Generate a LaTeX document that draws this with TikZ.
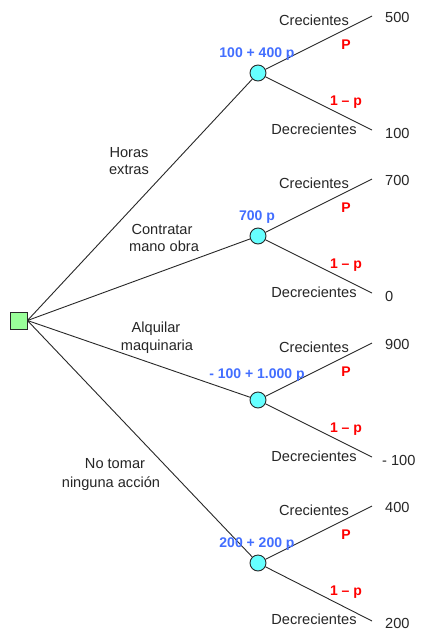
\documentclass[tikz,border=0pt]{standalone}
\usepackage{fontspec}
\setmainfont{Liberation Sans}
\definecolor{bluelbl}{RGB}{66,110,255}
\definecolor{redlbl}{RGB}{255,0,0}
\definecolor{sqgreen}{RGB}{153,255,153}
\definecolor{circcyan}{RGB}{102,255,255}
\definecolor{linegray}{RGB}{40,40,40}
\tikzset{
  branch/.style={draw=linegray, line width=0.9pt},
  chance/.style={circle, draw=linegray, fill=circcyan, minimum size=16pt, inner sep=0pt, line width=0.9pt},
  decision/.style={rectangle, draw=linegray, fill=sqgreen, minimum size=17pt, inner sep=0pt, line width=0.9pt},
  txt/.style={font=\fontsize{14.6}{17}\selectfont, text=black!85, inner sep=0pt, anchor=base},
  val/.style={txt, anchor=base west},
  ev/.style={font=\bfseries\fontsize{14}{16}\selectfont, text=bluelbl, inner sep=0pt, anchor=base},
  prob/.style={font=\bfseries\fontsize{14}{16}\selectfont, text=redlbl, inner sep=0pt, anchor=base},
}
\begin{document}
\begin{tikzpicture}[x=1pt,y=-1pt]
\useasboundingbox (0,0) rectangle (421,630);
\fill[white] (0,0) rectangle (421,630);

% decision node
\node[decision] (sq) at (18.5,320.5) {};

% chance nodes
\node[chance] (c1) at (258,73) {};
\node[chance] (c2) at (258,236) {};
\node[chance] (c3) at (258,400) {};
\node[chance] (c4) at (258,563) {};

% end points
\coordinate (e1a) at (372,16);  \coordinate (e1b) at (372,130);
\coordinate (e2a) at (372,179); \coordinate (e2b) at (372,293);
\coordinate (e3a) at (372,343); \coordinate (e3b) at (372,457);
\coordinate (e4a) at (372,506); \coordinate (e4b) at (372,621);

% main branches
\draw[branch] (sq.east) -- (c1);
\draw[branch] (sq.east) -- (c2);
\draw[branch] (sq.east) -- (c3);
\draw[branch] (sq.east) -- (c4);

% chance branches
\draw[branch] (c1) -- (e1a); \draw[branch] (c1) -- (e1b);
\draw[branch] (c2) -- (e2a); \draw[branch] (c2) -- (e2b);
\draw[branch] (c3) -- (e3a); \draw[branch] (c3) -- (e3b);
\draw[branch] (c4) -- (e4a); \draw[branch] (c4) -- (e4b);

% decision labels
\node[txt] (l1a) at (129,157) {Horas};
\node[txt] (l1b) at (129,174) {extras};
\node[txt] (l2a) at (162,234) {Contratar};
\node[txt] (l2b) at (164,251) {mano obra};
\node[txt] (l3a) at (156,332) {Alquilar};
\node[txt] (l3b) at (157,350) {maquinaria};
\node[txt] (l4a) at (115,468) {No tomar};
\node[txt] (l4b) at (111,487) {ninguna acción};

% expected values
\node[ev] (v1) at (257,57) {100 + 400 p};
\node[ev] (v2) at (257,220) {700 p};
\node[ev] (v3) at (257,378) {- 100 + 1.000 p};
\node[ev] (v4) at (257,547) {200 + 200 p};

% outcome labels, probabilities and values
\foreach \c/\y/\top/\bot in {1/73/500/100, 2/236/700/0, 3/400/900/- 100, 4/563/400/200}{
  \node[txt] (cr\c) at (314,\y-48) {Crecientes};
  \node[txt] (de\c) at (314,\y+61) {Decrecientes};
  \node[prob] (p\c) at (346,\y-24) {P};
  \node[prob] (q\c) at (346,\y+32) {1 – p};
  \node[val] (ta\c) at (385,\y-51) {\top};
  \node[val] (tb\c) at (\ifnum\c=3 382\else 385\fi,\y+65) {\bot};
}
\end{tikzpicture}
\end{document}
